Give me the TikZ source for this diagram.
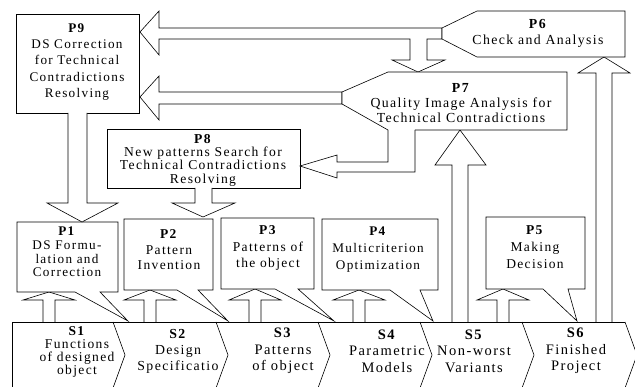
\documentclass[tikz,border=0pt]{standalone}
\usepackage{fontspec}
\setmainfont[LetterSpace=10]{Liberation Serif}
\begin{document}
\begin{tikzpicture}[x=1pt,y=-1pt]
\tikzset{
  ln/.style={draw=black, line width=0.6pt, line join=miter, fill=white},
  ptxt/.style 2 args={inner sep=0pt, align=center, font=\fontsize{#1}{#2}\selectfont},
}
\useasboundingbox (0,0) rectangle (635,387);
\fill[white] (0,0) rectangle (635,387);

% ---- bottom band (stages S1..S6)
\draw[line width=0.6pt] (12,392) -- (12,322) -- (625,322);
\foreach \x in {113,216,318,420,522,625}
  \draw[line width=0.6pt] (\x,322) -- (\x+12,355) -- (\x,388);

% ---- small up arrows S -> P
\foreach \c/\t in {49/292,150/290,255/289,359/290,503/289}
  \draw[ln] (\c-6,322) -- (\c-6,300) -- (\c-26,300) -- (\c,\t) -- (\c+26,300) -- (\c+6,300) -- (\c+6,322);

% ---- callout boxes P1..P5
\draw[ln] (17,222) -- (118,222) -- (118,292) -- (100,292) -- (128,321) -- (75,292) -- (17,292) -- cycle;
\draw[ln] (124,219) -- (213,219) -- (213,290) -- (198,290) -- (228,321) -- (177,290) -- (124,290) -- cycle;
\draw[ln] (221,218) -- (314,218) -- (314,289) -- (298,289) -- (334,321) -- (275,289) -- (221,289) -- cycle;
\draw[ln] (322,219) -- (438,219) -- (438,290) -- (420,290) -- (433,321) -- (390,290) -- (322,290) -- cycle;
\draw[ln] (486,217) -- (585,217) -- (585,289) -- (568,289) -- (577,321) -- (543,289) -- (486,289) -- cycle;

% ---- tall up arrows
\draw[ln] (452,322) -- (452,165) -- (435,165) -- (460,130) -- (486,165) -- (468,165) -- (468,322);
\draw[ln] (596,322) -- (596,73) -- (578,73) -- (604,57) -- (630,73) -- (612,73) -- (612,322);

% ---- P9, P8 boxes
\draw[ln] (16,14) rectangle (139,113);
\draw[ln] (107,129) rectangle (300,188);

% ---- down arrows P9 -> P1, P8 -> P2
\draw[ln] (68,113) -- (68,203) -- (47,203) -- (82,222) -- (118,203) -- (87,203) -- (87,113);
\draw[ln] (195,188) -- (195,203) -- (172,203) -- (203,217) -- (235,203) -- (212,203) -- (212,188);

% ---- P6 with arrow to P9 and down arrow to P7
\draw[ln] (140,32) -- (159,11) -- (159,28) -- (442,28) -- (442,39) -- (427,39) -- (427,60) -- (445,60)
  -- (418,72) -- (392,60) -- (410,60) -- (410,39) -- (159,39) -- (159,55) -- cycle;
\draw[ln] (442,28) -- (477,11) -- (625,11) -- (625,57) -- (477,57) -- (442,39) -- cycle;

% ---- P7 with arrow to P9 and elbow arrow to P8
\draw[ln] (140,97) -- (159,76) -- (159,92) -- (342,92) -- (342,104) -- (159,104) -- (159,120) -- cycle;
\draw[ln] (415,130) -- (567,130) -- (567,72) -- (388,72) -- (342,92) -- (342,104) -- (388,130);
\draw[ln] (388,130) -- (388,162) -- (337,162) -- (337,155) -- (300,166) -- (337,178) -- (337,172) -- (415,172) -- (415,130);

% ---- texts
\node[ptxt={13.2}{16.3}] (p9) at (77,62) {\textbf{P9}\\DS Correction\\for Technical\\Contradictions\\Resolving};
\node[ptxt={13.6}{13.3}] (p8) at (203,160) {\textbf{P8}\\New patterns Search for\\Technical Contradictions\\Resolving};
\node[ptxt={13.8}{15}] (p7) at (461,103) {\textbf{P7}\\Quality Image Analysis for\\Technical Contradictions};
\node[ptxt={13.8}{16}] (p6) at (538,33) {\textbf{P6}\\Check and Analysis};
\node[ptxt={13.2}{13.6}] (p1) at (67,252) {\textbf{P1}\\DS Formu-\\lation and\\Correction};
\node[ptxt={13.5}{15.5}] (p2) at (169,250) {\textbf{P2}\\Pattern\\Invention};
\node[ptxt={13.5}{16.5}] (p3) at (268,248) {\textbf{P3}\\Patterns of\\the object};
\node[ptxt={13.2}{17}] (p4) at (378,250) {\textbf{P4}\\Multicriterion\\Optimization};
\node[ptxt={13.5}{17}] (p5) at (535,247) {\textbf{P5}\\Making\\Decision};
\node[ptxt={13.5}{13}] (s1) at (77,352) {\textbf{S1}\\Functions\\of designed\\object};
\node[ptxt={13.8}{16}] (s2) at (178,351) {\textbf{S2}\\Design\\Specificatio};
\node[ptxt={14.5}{16.5}] (s3) at (283,351) {\textbf{S3}\\Patterns\\of object};
\node[ptxt={14.5}{16.5}] (s4) at (387,351) {\textbf{S4}\\Parametric\\Models};
\node[ptxt={14.5}{16.5}] (s5) at (474,351) {\textbf{S5}\\Non-worst\\Variants};
\node[ptxt={14.5}{16.5}] (s6) at (576,351) {\textbf{S6}\\Finished\\Project};
\end{tikzpicture}
\end{document}
